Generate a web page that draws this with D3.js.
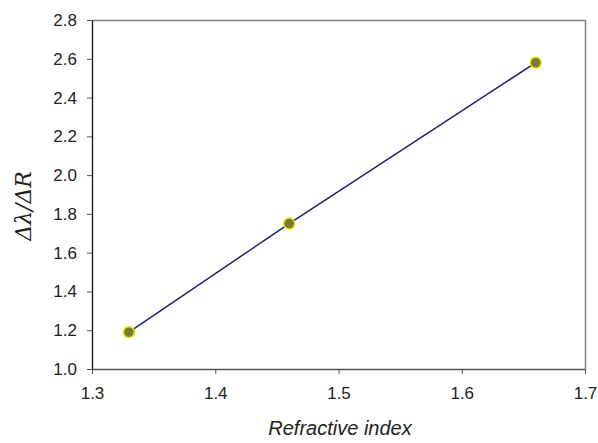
<!DOCTYPE html>
<html>
<head>
<meta charset="utf-8">
<script src="https://cdn.jsdelivr.net/npm/d3@7"></script>
<style>
body{margin:0;background:#fff}
text{font-family:Arial,"Liberation Sans",sans-serif}
</style>
</head>
<body>
<div id="chart"></div>
<script>
// data
var refractiveIndex = [1.33, 1.46, 1.66]
var ratio = [1.19, 1.75, 2.58]
var xTicks = [1.3, 1.4, 1.5, 1.6, 1.7]
var yTicks = [1.0, 1.2, 1.4, 1.6, 1.8, 2.0, 2.2, 2.4, 2.6, 2.8]

var w = 598
var h = 443
var margin = {left:92, right:13, top:20, bottom:74}

var svg = d3.select("#chart").append("svg").attr("width",w).attr("height",h)

var xScale = d3.scaleLinear().domain([1.3,1.7]).range([margin.left,w-margin.right])
var yScale = d3.scaleLinear().domain([1.0,2.8]).range([h-margin.bottom,margin.top])

// frame: top and right in grey
svg.append("line").attr("x1",xScale(1.3)).attr("x2",xScale(1.7))
    .attr("y1",yScale(2.8)+0.5).attr("y2",yScale(2.8)+0.5)
    .attr("stroke","#808080").attr("stroke-width",1.5)
svg.append("line").attr("x1",xScale(1.7)+0.5).attr("x2",xScale(1.7)+0.5)
    .attr("y1",yScale(2.8)).attr("y2",yScale(1.0))
    .attr("stroke","#808080").attr("stroke-width",1.5)

var xAxis = d3.axisBottom(xScale).tickValues(xTicks).tickSizeOuter(0).tickSizeInner(5).tickPadding(13)
    .tickFormat(d3.format(".1f"))
var gx = svg.append("g").attr("transform","translate(0,"+(h-margin.bottom)+")").call(xAxis)
gx.select(".domain").attr("stroke","#555").attr("stroke-width",1.3)
gx.selectAll(".tick line").attr("stroke","#555")
gx.selectAll("text").attr("font-size",17).attr("fill","#222")

var yAxis = d3.axisLeft(yScale).tickValues(yTicks).tickSizeOuter(0).tickSizeInner(5).tickPadding(10)
    .tickFormat(d3.format(".1f"))
var gy = svg.append("g").attr("transform","translate("+margin.left+",0)").call(yAxis)
gy.select(".domain").attr("stroke","#111").attr("stroke-width",1.3)
gy.selectAll(".tick line").attr("stroke","#555")
gy.selectAll("text").attr("font-size",17).attr("fill","#222")

// line through the points
var line = d3.line()
    .x(function(d,i){return xScale(refractiveIndex[i])})
    .y(function(d){return yScale(d)})
svg.append("path").datum(ratio).attr("d",line)
    .attr("fill","none").attr("stroke","#1c2370").attr("stroke-width",1.5)

svg.selectAll(".pt")
    .data(ratio)
    .enter()
    .append("circle")
    .attr("class","pt")
    .attr("cx",function(d,i){return xScale(refractiveIndex[i])})
    .attr("cy",function(d){return yScale(d)})
    .attr("r",5.5)
    .attr("fill","#7a7a34")
    .attr("stroke","#e6e600")
    .attr("stroke-width",1.5)

// axis titles
svg.append("text").text("Refractive index")
    .attr("x",340).attr("y",435)
    .attr("text-anchor","middle").attr("font-size",20).attr("font-style","italic").attr("fill","#222")

svg.append("text").text("Δλ/ΔR")
    .attr("transform","translate(31,206) rotate(-90)")
    .attr("text-anchor","middle").attr("font-size",22).attr("font-style","italic")
    .style("font-family","'DejaVu Serif',serif").attr("fill","#222")
</script>
</body>
</html>
